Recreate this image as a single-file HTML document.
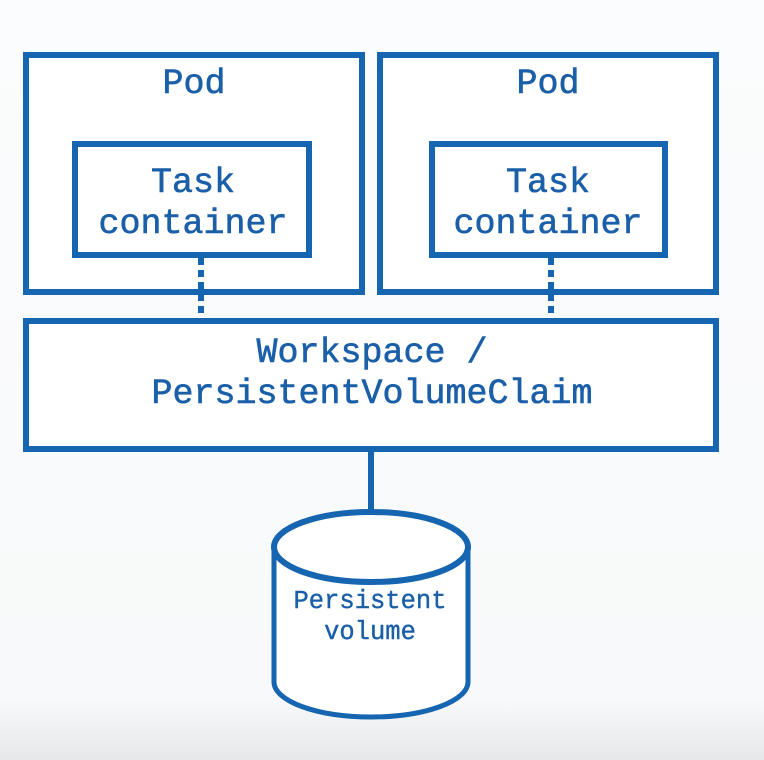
<!DOCTYPE html>
<html><head><style>
html,body{margin:0;padding:0;width:764px;height:760px;overflow:hidden;background:linear-gradient(#fbfcfd 0,#f8f9fa 700px,#e6e7e9 760px);}
svg{position:absolute;left:0;top:0}
text{font-family:"Liberation Mono",monospace;fill:#1a5fa8;text-anchor:middle}
</style></head><body>
<svg width="764" height="760" viewBox="0 0 764 760">
<g fill="#fff" stroke="#1565b0" stroke-width="6">
<rect x="26" y="55" width="336" height="237"/>
<rect x="380" y="55" width="336" height="237"/>
<rect x="75" y="144" width="234" height="111"/>
<rect x="432" y="144" width="233" height="111"/>
<rect x="26" y="321" width="690" height="128"/>
</g>
<g stroke="#1565b0" stroke-width="6" stroke-dasharray="7 5">
<line x1="201" y1="258" x2="201" y2="318"/>
<line x1="551" y1="258" x2="551" y2="318"/>
</g>
<line x1="371" y1="452" x2="371" y2="512" stroke="#1565b0" stroke-width="6"/>
<path d="M274 547 L274 682 A97 35 0 0 0 468 682 L468 547" fill="#fff" stroke="#1565b0" stroke-width="5"/>
<ellipse cx="371" cy="547" rx="97" ry="35" fill="#fff" stroke="#1565b0" stroke-width="6"/>
<g font-size="35" stroke="#1a5fa8" stroke-width="0.6">
<text x="194" y="93">Pod</text>
<text x="548" y="93">Pod</text>
<text x="193" y="192">Task</text>
<text x="193" y="233">container</text>
<text x="548" y="192">Task</text>
<text x="548" y="233">container</text>
<text x="372" y="362">Workspace /</text>
<text x="372" y="403">PersistentVolumeClaim</text>
</g>
<g font-size="25.5" stroke="#1a5fa8" stroke-width="0.4">
<text x="370" y="608">Persistent</text>
<text x="370" y="639">volume</text>
</g>
</svg>
</body></html>
